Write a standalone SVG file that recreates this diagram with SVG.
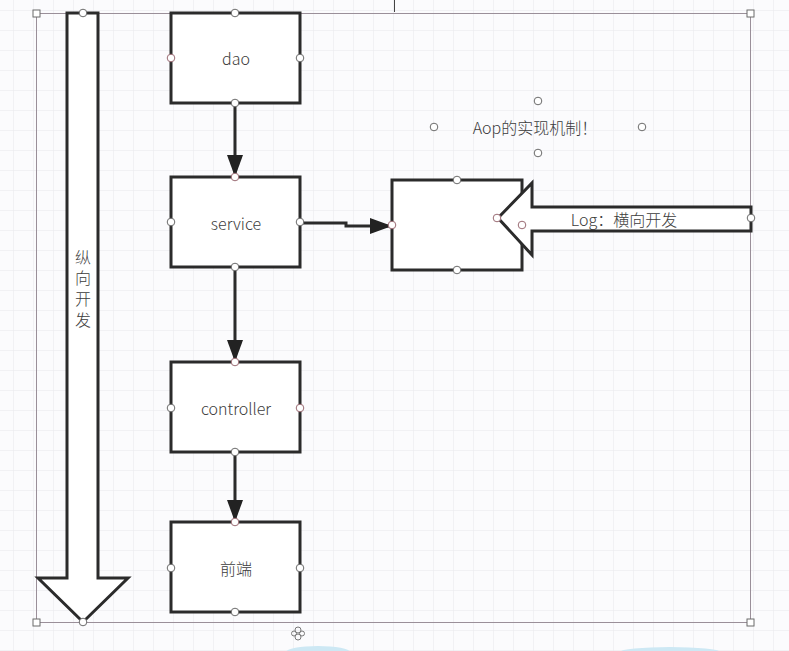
<svg xmlns="http://www.w3.org/2000/svg" width="789" height="651" viewBox="0 0 789 651">
<defs>
<pattern id="grid" x="13" y="10" width="20" height="20" patternUnits="userSpaceOnUse">
<path d="M0 0V20M0 0H20" fill="none" stroke="#e7e8ec" stroke-width="1"/>
</pattern>
<marker id="ah2" viewBox="0 0 22 22" refX="22" refY="11" markerWidth="22" markerHeight="22" markerUnits="userSpaceOnUse" orient="auto">
<path d="M0 3L22 11L0 19Z" fill="#222"/>
</marker>
</defs>
<style>
.box{fill:#fff;stroke:#2b2b2b;stroke-width:3}
.big{fill:#fff;stroke:#2b2b2b;stroke-width:3;stroke-linejoin:miter}
.lbl{font-family:"Noto Sans CJK SC","Liberation Sans",sans-serif;font-size:16px;font-weight:300;fill:#3c3c3c;text-anchor:middle;dominant-baseline:central}
.vert{font-family:"Noto Sans CJK SC",sans-serif;font-size:16px;font-weight:300;fill:#3c3c3c;text-anchor:middle;writing-mode:vertical-rl;letter-spacing:5px}
.h{fill:#fff;stroke:#6b6b6b;stroke-width:1}
.hp{fill:#fff;stroke:#9a6b73;stroke-width:1}
.sel{fill:none;stroke:#9a8f99;stroke-width:1}
.edge{fill:none;stroke:#2b2b2b;stroke-width:3;marker-end:url(#ah2)}
</style>
<rect width="789" height="651" fill="#fbfbfd"/>
<rect width="789" height="651" fill="url(#grid)"/>
<line x1="394.5" y1="0" x2="394.5" y2="12" stroke="#444" stroke-width="1"/>
<g id="selection">
<rect class="sel" x="36.5" y="13.5" width="714" height="609"/>
</g>
<g id="vertical-arrow">
<path class="big" d="M67 13H98V578H128L83 622L38 578H67Z"/>
<text class="vert" x="83" y="291">纵向开发</text>
</g>
<g id="connectors">
<line class="edge" x1="235" y1="104" x2="235" y2="177"/>
<line class="edge" x1="235" y1="268" x2="235" y2="362"/>
<line class="edge" x1="235" y1="453" x2="235" y2="522"/>
<path class="edge" d="M301 223H346V226H392"/>
</g>
<g id="dao">
<rect class="box" x="171" y="13" width="129" height="90"/>
<text class="lbl" x="236" y="58">dao</text>
</g>
<g id="service">
<rect class="box" x="171" y="177" width="129" height="90"/>
<text class="lbl" x="236" y="223">service</text>
</g>
<g id="controller">
<rect class="box" x="171" y="362" width="129" height="90"/>
<text class="lbl" x="236" y="408">controller</text>
</g>
<g id="frontend">
<rect class="box" x="171" y="522" width="129" height="90"/>
<text class="lbl" x="236" y="568">前端</text>
</g>
<g id="aspect-box">
<rect class="box" x="392" y="180" width="130" height="90"/>
</g>
<g id="log-arrow">
<path class="big" d="M751 207V231H532V255L498 218L532 183V207Z"/>
<text class="lbl" x="624" y="219">Log：横向开发</text>
</g>
<g id="aop-title">
<text class="lbl" x="535" y="127">Aop的实现机制！</text>
</g>
<g id="handles">
<rect class="h" x="33" y="10" width="7" height="7"/>
<rect class="h" x="747" y="10" width="7" height="7"/>
<rect class="h" x="33" y="619" width="7" height="7"/>
<rect class="h" x="747" y="619" width="7" height="7"/>
<circle class="h" cx="83" cy="13" r="3.8"/>
<circle class="h" cx="83" cy="622" r="3.8"/>
<circle class="h" cx="235" cy="13" r="3.8"/>
<circle class="hp" cx="171" cy="58" r="3.8"/>
<circle class="h" cx="300" cy="58" r="3.8"/>
<circle class="h" cx="235" cy="103" r="3.8"/>
<circle class="hp" cx="235" cy="177" r="3.8"/>
<circle class="h" cx="171" cy="222" r="3.8"/>
<circle class="h" cx="300" cy="222" r="3.8"/>
<circle class="h" cx="235" cy="267" r="3.8"/>
<circle class="hp" cx="235" cy="362" r="3.8"/>
<circle class="h" cx="171" cy="408" r="3.8"/>
<circle class="hp" cx="300" cy="408" r="3.8"/>
<circle class="h" cx="235" cy="452" r="3.8"/>
<circle class="hp" cx="235" cy="522" r="3.8"/>
<circle class="h" cx="171" cy="568" r="3.8"/>
<circle class="h" cx="300" cy="568" r="3.8"/>
<circle class="h" cx="235" cy="612" r="3.8"/>
<circle class="h" cx="457" cy="180" r="3.8"/>
<circle class="h" cx="457" cy="270" r="3.8"/>
<circle class="hp" cx="392" cy="225" r="3.8"/>
<circle class="hp" cx="522" cy="225" r="3.8"/>
<circle class="hp" cx="497" cy="218" r="3.8"/>
<circle class="h" cx="751" cy="218" r="3.8"/>
<circle class="h" cx="538" cy="101" r="3.8"/>
<circle class="h" cx="434" cy="127" r="3.8"/>
<circle class="h" cx="642" cy="127" r="3.8"/>
<circle class="h" cx="538" cy="153" r="3.8"/>
</g>
<g id="move-icon" fill="none" stroke="#777" stroke-width="1">
<circle cx="298" cy="630" r="3"/>
<circle cx="298" cy="637" r="3"/>
<circle cx="294" cy="633.5" r="2.5"/>
<circle cx="302" cy="633.5" r="2.5"/>
</g>
<ellipse cx="318" cy="652" rx="32" ry="6" fill="#cde8f4"/>
<ellipse cx="670" cy="652" rx="50" ry="5" fill="#cde8f4"/>
</svg>
